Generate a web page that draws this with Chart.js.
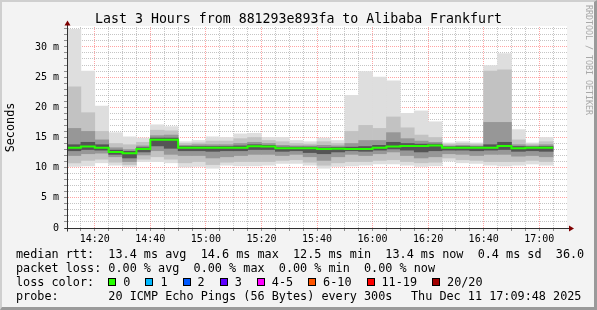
<!DOCTYPE html>
<html>
<head>
<meta charset="utf-8">
<title>SmokePing - Alibaba Frankfurt</title>
<script src="https://cdn.jsdelivr.net/npm/chart.js@4/dist/chart.umd.min.js"></script>
<style>
  html, body { margin: 0; padding: 0; background: #fff; }
  #frame {
    position: relative; width: 597px; height: 310px; overflow: hidden;
    background: #f3f3f3; color: #000;
    font-family: 'DejaVu Sans Mono', monospace;
  }
  #frame::after {
    content: ''; position: absolute; left: 0; top: 0; right: 0; bottom: 0;
    border-top: 2px solid #cfcfcf; border-left: 2px solid #cfcfcf;
    border-right: 3px solid #9a9a9a; border-bottom: 3px solid #9a9a9a;
    pointer-events: none;
  }
  canvas { position: absolute; left: 0; top: 0; }
  .title {
    position: absolute; left: 0; top: 11px; width: 597px; text-align: center;
    font-size: 13.26px; line-height: 16px; white-space: pre;
  }
  .leg { position: absolute; left: 16px; font-size: 11.8px; line-height: 14px; white-space: pre; }
  .box {
    display: inline-block; width: 6px; height: 6px; border: 1px solid #000;
    margin-right: 7px; vertical-align: baseline;
  }
  .lbl { margin-right: 15px; }
  .stamp { position: absolute; left: 411px; top: 288.5px; font-size: 11.8px; line-height: 14px; white-space: pre; }
  .mark {
    position: absolute; left: 584px; top: 5px; writing-mode: vertical-rl;
    font-size: 8.3px; line-height: 9px; color: #a8a8a8; white-space: pre;
  }
</style>
</head>
<body>
<div id="frame">
  <canvas id="smoke" width="597" height="310"></canvas>
  <div class="title">Last 3 Hours from 881293e893fa to Alibaba Frankfurt</div>
  <div class="leg" style="top:246.5px">median rtt:  13.4 ms avg  14.6 ms max  12.5 ms min  13.4 ms now  0.4 ms sd  36.0</div>
  <div class="leg" style="top:260.5px">packet loss: 0.00 % avg  0.00 % max  0.00 % min  0.00 % now</div>
  <div class="leg" id="losscolor" style="top:274.5px">loss color:  </div>
  <div class="leg" style="top:288.5px">probe:       20 ICMP Echo Pings (56 Bytes) every 300s</div>
  <div class="stamp">Thu Dec 11 17:09:48 2025</div>
  <div class="mark">RRDTOOL / TOBI OETIKER</div>
</div>
<script>
// 5 minute steps, start time of each step
const times = ['14:10','14:15','14:20','14:25','14:30','14:35','14:40','14:45','14:50','14:55',
               '15:00','15:05','15:10','15:15','15:20','15:25','15:30','15:35','15:40','15:45',
               '15:50','15:55','16:00','16:05','16:10','16:15','16:20','16:25','16:30','16:35',
               '16:40','16:45','16:50','16:55','17:00'];

// sorted ping distribution per step (ms)
const pingMin = [10.2,10.3,10.8,10.4,10.2,11.0,11.0,10.8,10.1,10.2,
                 9.9,10.4,10.3,10.3,10.4,10.7,10.7,10.4,9.9,10.2,
                 10.3,10.4,10.6,10.6,10.4,10.2,10.3,11.1,10.8,10.7,
                 10.4,10.3,10.4,10.6,10.4];
const pingP10 = [10.8,11.2,11.4,10.9,10.5,11.4,11.8,11.4,10.8,11.0,
                 10.5,10.9,11.0,11.0,11.0,11.2,11.3,10.9,10.4,10.8,
                 11.0,11.0,11.2,11.3,11.0,10.8,10.9,11.6,11.3,11.2,
                 11.0,11.0,11.0,11.2,11.0];
const pingP25 = [12.0,12.3,12.4,11.8,11.0,12.1,12.8,12.2,12.0,12.0,
                 11.6,11.8,12.0,12.2,12.2,12.0,12.2,11.8,11.2,11.8,
                 12.2,12.0,12.3,12.6,12.0,11.6,11.8,12.3,12.2,12.0,
                 12.2,12.2,11.9,12.0,11.8];
const pingP40 = [12.8,13.0,12.9,12.2,11.6,12.6,13.6,13.2,12.8,12.8,
                 12.7,12.8,12.8,13.0,13.0,12.7,12.8,12.5,12.3,12.6,
                 12.8,12.7,12.9,13.1,12.9,12.6,12.8,12.9,12.9,12.8,
                 12.9,13.0,12.7,12.8,12.7];
const median  = [13.3,13.5,13.3,12.6,12.4,13.1,14.6,14.6,13.3,13.3,
                 13.3,13.3,13.3,13.55,13.5,13.2,13.2,13.2,13.1,13.15,
                 13.1,13.1,13.3,13.5,13.6,13.6,13.65,13.3,13.3,13.3,
                 13.3,13.6,13.2,13.3,13.3];
const pingP60 = [13.8,14.2,13.8,12.9,12.7,13.3,14.9,14.9,13.5,13.5,
                 13.5,13.5,13.6,13.8,13.7,13.4,13.4,13.4,13.3,13.35,
                 13.4,13.5,13.7,14.2,14.0,13.9,13.9,13.45,13.5,13.45,
                 13.8,14.2,13.5,13.45,13.5];
const pingP75 = [16.5,16.0,14.6,13.3,13.0,13.6,15.3,15.4,13.7,13.8,
                 13.8,13.8,14.0,14.2,14.0,13.7,13.6,13.6,13.7,13.6,
                 14.0,14.5,14.5,15.8,14.8,14.4,14.2,13.6,13.7,13.6,
                 17.5,17.5,13.8,13.6,13.8];
const pingP90 = [23.4,19.1,16.0,14.0,13.8,14.2,16.2,16.1,14.0,14.1,
                 14.4,14.4,14.8,15.0,14.5,14.3,14.0,13.9,14.3,14.0,
                 16.0,17.0,16.5,18.4,16.6,15.4,15.0,13.9,14.0,13.9,
                 26.0,26.2,14.6,13.9,14.3];
const pingMax = [32.9,26.0,20.2,15.8,15.1,14.9,17.1,16.8,14.3,14.5,
                 15.1,15.0,15.6,15.7,15.0,15.0,14.5,14.3,14.9,14.5,
                 22.0,25.9,25.0,24.4,19.0,19.4,17.6,14.1,14.3,14.1,
                 26.9,28.9,16.3,14.1,15.0];

const xTickLabels = ['14:20','14:40','15:00','15:20','15:40','16:00','16:20','16:40','17:00'];
const yTickLabels = ['0','5 m','10 m','15 m','20 m','25 m','30 m'];

const lossLabels = ['0','1','2','3','4-5','6-10','11-19','20/20'];
const lossColors = ['#26ff00','#00b8ff','#0059ff','#5e00ff','#ff00ff','#ff5500','#ff0000','#a10000'];

// minutes after 14:00
function toMin(t) {
    const p = t.split(':');
    return (parseInt(p[0]) - 14) * 60 + parseInt(p[1]);
}
const STEP = 5;
const xStart = 10, xEnd = 190;
const yTop = 33.3;

const majorX = xTickLabels.map(toMin);
const majorY = yTickLabels.map(l => parseFloat(l) || 0);

// legend boxes
const lc = document.getElementById('losscolor');
lossLabels.forEach((l, i) => {
    const b = document.createElement('span');
    b.className = 'box';
    b.style.background = lossColors[i];
    lc.appendChild(b);
    const s = document.createElement('span');
    s.className = 'lbl';
    s.textContent = l;
    lc.appendChild(s);
});

function band(lo, hi) {
    return times.map((t, i) => ({ x: toMin(t) + STEP / 2, y: [lo[i], hi[i]] }));
}

// step line: each median holds from the start to the end of its step
const medLine = times.map((t, i) => ({ x: toMin(t), y: median[i] }));
medLine.push({ x: toMin(times[times.length - 1]) + STEP, y: median[median.length - 1] });

const barBase = { type: 'bar', grouped: false, barPercentage: 1, categoryPercentage: 1, borderWidth: 0 };

const rrdFrame = {
    id: 'rrdFrame',
    beforeDraw(chart) {
        const { ctx, chartArea: a } = chart;
        ctx.save();
        ctx.fillStyle = '#ffffff';
        ctx.fillRect(a.left, a.top - 1, a.right - a.left, a.bottom - a.top + 1);
        ctx.restore();
    },
    afterDraw(chart) {
        const { ctx, chartArea: a } = chart;
        const x0 = Math.round(a.left) + 0.5, y0 = Math.round(a.bottom) + 0.5;
        ctx.save();
        ctx.strokeStyle = '#303030';
        ctx.lineWidth = 1;
        ctx.beginPath();
        ctx.moveTo(x0, y0 + 3); ctx.lineTo(x0, a.top - 2);
        ctx.moveTo(x0 - 3, y0); ctx.lineTo(a.right + 2, y0);
        ctx.stroke();
        ctx.fillStyle = '#7f0000';
        ctx.beginPath();
        ctx.moveTo(x0 - 3, a.top - 1.5); ctx.lineTo(x0 + 3, a.top - 1.5); ctx.lineTo(x0, a.top - 6.5);
        ctx.closePath(); ctx.fill();
        ctx.beginPath();
        ctx.moveTo(a.right + 2, y0 - 3); ctx.lineTo(a.right + 2, y0 + 3); ctx.lineTo(a.right + 7, y0);
        ctx.closePath(); ctx.fill();
        ctx.restore();
    }
};

Chart.defaults.font.family = "'DejaVu Sans Mono', monospace";
Chart.defaults.color = '#000';

new Chart(document.getElementById('smoke'), {
    data: {
        datasets: [
            { type: 'line', data: medLine, stepped: 'before', borderColor: '#26ff00', borderWidth: 2,
              pointRadius: 0, fill: false, order: 0 },
            Object.assign({ data: band(pingP40, pingP60), backgroundColor: '#555555', order: 1 }, barBase),
            Object.assign({ data: band(pingP25, pingP75), backgroundColor: '#979797', order: 2 }, barBase),
            Object.assign({ data: band(pingP10, pingP90), backgroundColor: '#c2c2c2', order: 3 }, barBase),
            Object.assign({ data: band(pingMin, pingMax), backgroundColor: '#dedede', order: 4 }, barBase)
        ]
    },
    options: {
        responsive: false,
        animation: false,
        events: [],
        layout: { padding: { left: 0, top: 27, right: 30, bottom: 66 } },
        plugins: { legend: { display: false }, tooltip: { enabled: false } },
        scales: {
            x: {
                type: 'linear', min: xStart, max: xEnd, offset: false, z: 1,
                grid: {
                    offset: false, drawTicks: true, tickLength: 3, lineWidth: 1,
                    color: c => majorX.includes(c.tick.value) ? 'rgba(255,90,90,0.55)' : 'rgba(150,150,150,0.55)',
                    tickColor: '#909090'
                },
                border: { display: true, color: '#303030', dash: [1, 1] },
                afterBuildTicks: s => {
                    const t = [];
                    for (let v = xStart + STEP; v < xEnd; v += STEP) t.push({ value: v });
                    s.ticks = t;
                },
                afterFit: s => { s.height = 16; },
                ticks: {
                    autoSkip: false, maxRotation: 0, minRotation: 0, padding: 2,
                    font: { size: 10 },
                    callback: v => {
                        const i = majorX.indexOf(v);
                        return i >= 0 ? xTickLabels[i] : '';
                    }
                }
            },
            y: {
                type: 'linear', min: 0, max: yTop, z: 1,
                grid: {
                    drawTicks: true, tickLength: 3, lineWidth: 1,
                    color: c => majorY.includes(c.tick.value) ? 'rgba(255,90,90,0.55)' : 'rgba(150,150,150,0.55)',
                    tickColor: '#909090'
                },
                border: { display: true, color: '#303030', dash: [1, 1] },
                afterBuildTicks: s => {
                    const t = [];
                    for (let v = 0; v <= Math.floor(yTop); v++) t.push({ value: v });
                    s.ticks = t;
                },
                afterFit: s => { s.width = 67; },
                title: { display: true, text: 'Seconds', font: { size: 11.8 }, padding: { top: 4, bottom: 0 } },
                ticks: {
                    autoSkip: false, padding: 5,
                    font: { size: 10 },
                    callback: v => {
                        const i = majorY.indexOf(v);
                        return i >= 0 ? yTickLabels[i] : '';
                    }
                }
            }
        }
    },
    plugins: [rrdFrame]
});
</script>
</body>
</html>
